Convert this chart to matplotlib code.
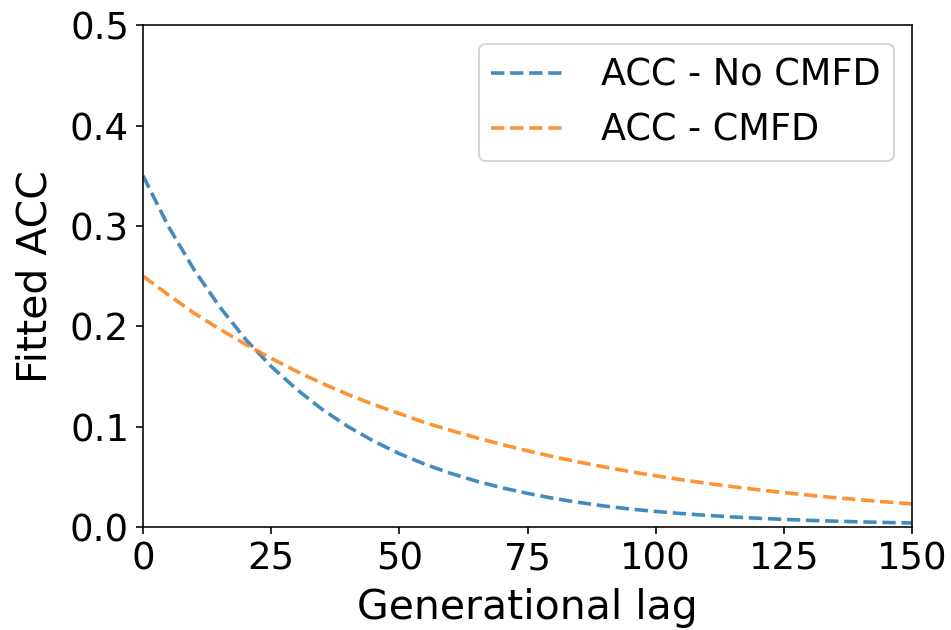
import matplotlib
matplotlib.use("Agg")
import matplotlib.pyplot as plt

# Generational lag and fitted autocorrelation values
lag = [0, 5, 10, 15, 20, 25, 30, 35, 40, 45, 50, 55, 60, 65, 70, 75,
       80, 85, 90, 95, 100, 105, 110, 115, 120, 125, 130, 135, 140, 145, 150]

acc_no_cmfd = [0.350, 0.299, 0.256, 0.219, 0.187, 0.160, 0.137, 0.117, 0.100,
               0.0855, 0.0731, 0.0625, 0.0535, 0.0457, 0.0391, 0.0335, 0.0286,
               0.0245, 0.0209, 0.0179, 0.0155, 0.0134, 0.0116, 0.0100, 0.0087,
               0.0076, 0.0066, 0.0058, 0.0051, 0.0045, 0.0040]

acc_cmfd = [0.250, 0.231, 0.213, 0.197, 0.182, 0.168, 0.155, 0.143, 0.132,
            0.122, 0.113, 0.104, 0.0963, 0.0890, 0.0822, 0.0759, 0.0701,
            0.0647, 0.0598, 0.0552, 0.0510, 0.0471, 0.0435, 0.0402, 0.0371,
            0.0343, 0.0317, 0.0292, 0.0270, 0.0250, 0.0230]

xticks = [0, 25, 50, 75, 100, 125, 150]
yticks = [0.0, 0.1, 0.2, 0.3, 0.4, 0.5]

dpi = 144
fig = plt.figure(figsize=(951 / dpi, 630 / dpi), dpi=dpi)
ax = fig.add_axes([0.1504, 0.1635, 0.959 - 0.1504, 0.960 - 0.1635])

ax.plot(lag, acc_no_cmfd, "--", color="#1f77b4", lw=1.8, alpha=0.85,
        label="ACC - No CMFD")
ax.plot(lag, acc_cmfd, "--", color="#ff7f0e", lw=1.8, alpha=0.85,
        label="ACC - CMFD")

ax.set_xlim(0, 150)
ax.set_ylim(0, 0.5)
ax.set_xticks(xticks)
ax.set_yticks(yticks)
ax.tick_params(labelsize=18.5)
ax.set_xlabel("Generational lag", fontsize=20.5, labelpad=5)
ax.set_ylabel("Fitted ACC", fontsize=20.5, labelpad=7)
ax.legend(fontsize=18.3, loc="upper right", handletextpad=1.0,
          borderpad=0.35)

fig.savefig("out.png", dpi=dpi)
